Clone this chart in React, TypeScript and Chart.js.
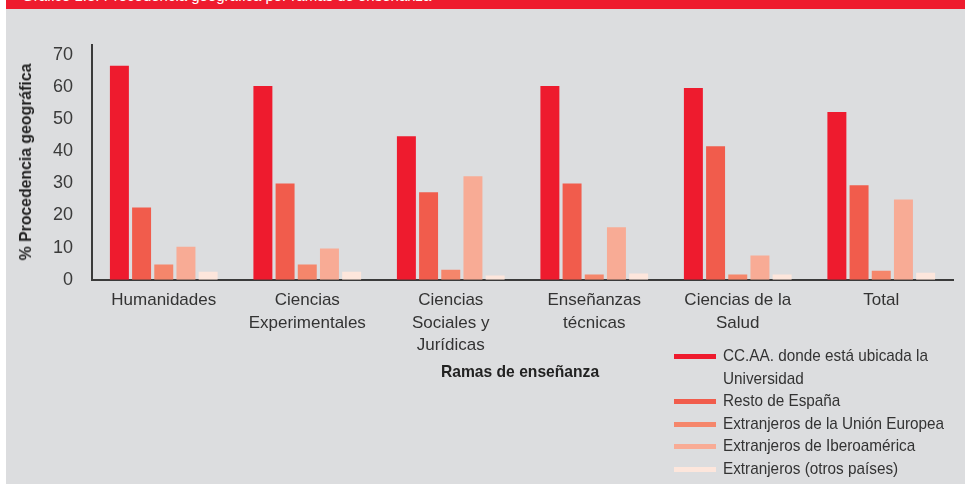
import React, { useEffect, useRef } from "react";
import { Chart, registerables } from "chart.js";

Chart.register(...registerables);

const categories: string[][] = [
  ["Humanidades"],
  ["Ciencias", "Experimentales"],
  ["Ciencias", "Sociales y", "Jurídicas"],
  ["Enseñanzas", "técnicas"],
  ["Ciencias de la", "Salud"],
  ["Total"],
];

const seriesNames = [
  ["CC.AA. donde está ubicada la", "Universidad"],
  ["Resto de España"],
  ["Extranjeros de la Unión Europea"],
  ["Extranjeros de Iberoamérica"],
  ["Extranjeros (otros países)"],
];

const ccaa = [66.6, 60.3, 44.7, 60.3, 59.7, 52.2];
const restoEspana = [22.5, 30.0, 27.2, 30.0, 41.6, 29.4];
const unionEuropea = [4.7, 4.7, 3.1, 1.6, 1.6, 2.8];
const iberoamerica = [10.3, 9.7, 32.2, 16.3, 7.5, 25.0];
const otrosPaises = [2.5, 2.5, 1.3, 1.9, 1.6, 2.2];

const yTicks = [0, 10, 20, 30, 40, 50, 60, 70];

const colors = ["#ee1b2e", "#f15c4c", "#f5866b", "#f8ab95", "#fde6dc"];

const SANS = "'Liberation Sans', Arial, sans-serif";

export default function App() {
  const ref = useRef<HTMLCanvasElement | null>(null);

  useEffect(() => {
    if (!ref.current) return;
    const values = [ccaa, restoEspana, unionEuropea, iberoamerica, otrosPaises];
    const chart = new Chart(ref.current, {
      type: "bar",
      data: {
        labels: categories,
        datasets: values.map((v, i) => ({
          label: seriesNames[i].join(" "),
          data: v,
          backgroundColor: colors[i],
          borderWidth: 0,
          categoryPercentage: 0.773,
          barPercentage: 0.855,
        })),
      },
      options: {
        responsive: false,
        animation: false,
        layout: { padding: { left: 34, top: 45, right: 12, bottom: 34 } },
        plugins: {
          legend: { display: false },
          tooltip: { enabled: false },
        },
        scales: {
          x: {
            grid: { display: false, drawTicks: false },
            border: { display: true, color: "#3a3a3a", width: 2 },
            ticks: {
              color: "#333333",
              font: { family: SANS, size: 17, lineHeight: 1.3 },
              padding: 10,
              maxRotation: 0,
              autoSkip: false,
            },
          },
          y: {
            min: 0,
            max: 73.1,
            grid: { display: false, drawTicks: false },
            border: { display: true, color: "#3a3a3a", width: 2 },
            afterBuildTicks: (axis: any) => {
              axis.ticks = yTicks.map((v) => ({ value: v }));
            },
            ticks: {
              color: "#3a3a3a",
              font: { family: SANS, size: 18 },
              padding: 19,
              includeBounds: false,
            },
          },
        },
      },
    });
    return () => chart.destroy();
  }, []);

  return (
    <div style={{ position: "fixed", left: 0, top: 0, width: 965, height: 484, background: "#ffffff", overflow: "hidden" }}>
      <div style={{ position: "absolute", left: 6, top: 9, width: 959, height: 475, background: "#dcdddf" }} />
      <div style={{ position: "absolute", left: 6, top: 0, width: 959, height: 9, background: "#ee1b2e", overflow: "hidden" }}>
        <div style={{ position: "absolute", left: 16, top: -13, whiteSpace: "nowrap", color: "#ffffff", fontFamily: SANS, fontSize: 15 }}>
          Gráfico 1.3. Procedencia geográfica por ramas de enseñanza
        </div>
      </div>
      <canvas ref={ref} width={965} height={400} style={{ position: "absolute", left: 0, top: 0, width: 965, height: 400 }} />
      <div
        style={{
          position: "absolute",
          left: 26,
          top: 162,
          whiteSpace: "nowrap",
          fontFamily: SANS,
          fontWeight: "bold",
          fontSize: 17,
          color: "#222222",
          transform: "translate(-50%, -50%) rotate(-90deg) scaleX(0.93)",
        }}
      >
        % Procedencia geográfica
      </div>
      <div
        style={{
          position: "absolute",
          left: 520,
          top: 372,
          whiteSpace: "nowrap",
          fontFamily: SANS,
          fontWeight: "bold",
          fontSize: 17,
          color: "#222222",
          transform: "translate(-50%, -50%) scaleX(0.92)",
        }}
      >
        Ramas de enseñanza
      </div>
      <div style={{ position: "absolute", left: 674, top: 345, fontFamily: SANS, fontSize: 17, color: "#333333", lineHeight: "22.5px" }}>
        {seriesNames.map((lines, i) => (
          <div key={i} style={{ position: "relative", paddingLeft: 49 }}>
            <span style={{ position: "absolute", left: 0, top: 9, width: 42, height: 5, background: colors[i] }} />
            {lines.map((l, j) => (
              <div key={j} style={{ whiteSpace: "nowrap", transform: "scaleX(0.9)", transformOrigin: "left center" }}>
                {l}
              </div>
            ))}
          </div>
        ))}
      </div>
    </div>
  );
}
